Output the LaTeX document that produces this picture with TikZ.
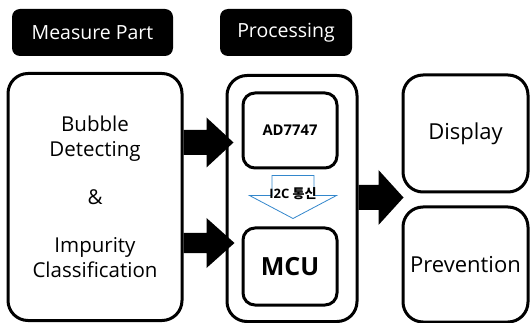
\documentclass[tikz,border=0pt]{standalone}
\usepackage{fontspec}
\setmainfont{Open Sans}
\newfontfamily\krfont{Noto Sans CJK KR}
\usetikzlibrary{calc}

% solid block arrow: start, tip, shaft half, head half, head length
\newcommand\blockarrow[5]{%
  \fill (#1) ++(0,-#3) -- ($(#2)+(-#5,-#3)$) -- ($(#2)+(-#5,-#4)$) -- (#2)
    -- ($(#2)+(-#5,#4)$) -- ($(#2)+(-#5,#3)$) -- ($(#1)+(0,#3)$) -- cycle;}

\begin{document}
\begin{tikzpicture}[x=1pt, y=-1pt,
	every node/.style={font=\fontsize{20.5}{25}\selectfont},
	hdr/.style={fill=black, text=white, rounded corners=8pt, inner sep=0pt, font=\fontsize{19.5}{24}\selectfont},
	bigbox/.style={draw, line width=3pt, rounded corners=20pt, inner sep=0pt, align=center},
	smallbox/.style={draw, line width=3pt, rounded corners=12pt, inner sep=0pt},
	i2c/.style={draw=blue!45!cyan!60!gray, line width=0.8pt, fill=white, fill opacity=0.6}]
	\useasboundingbox (0,0) rectangle (530,323);

	% headers
	\node[hdr, minimum width=161pt, minimum height=47pt] (mhdr) at (92.5,32.5) {Measure Part};
	\node[hdr, minimum width=132pt, minimum height=47pt] (phdr) at (286,32.5) {Processing};

	% blocks
	\node[bigbox, minimum width=174pt, minimum height=247pt] (measure) at (95,197) {Bubble\\Detecting\\[23pt]\&\\[23pt]Impurity\\Classification};
	\node[bigbox, minimum width=130pt, minimum height=246pt] (proc) at (292,198.5) {};
	\node[smallbox, minimum width=94pt, minimum height=75pt, font=\fontsize{14.8}{17}\selectfont\bfseries] (ad) at (290,130.5) {AD7747};
	\node[smallbox, minimum width=94pt, minimum height=77pt, font=\fontsize{25}{28}\selectfont\bfseries] (mcu) at (290,266.5) {MCU};
	\node[bigbox, minimum width=125pt, minimum height=117pt, font=\fontsize{22}{25}\selectfont] (display) at (465.5,133.5) {Display};
	\node[bigbox, minimum width=125pt, minimum height=115pt, font=\fontsize{22}{25}\selectfont] (prev) at (465.5,264.5) {Prevention};

	% arrows
	\coordinate (t1) at ($(ad.west)+(-8,12)$);
	\coordinate (t2) at ($(mcu.west)+(-7,-23.5)$);
	\coordinate (t3) at ($(display.south west)!0.5!(prev.north west)+(2,-2)$);
	\blockarrow{measure.east |- t1}{t1}{12.5}{25}{27}
	\blockarrow{measure.east |- t2}{t2}{10}{25}{28}
	\blockarrow{proc.east |- t3}{t3}{12.5}{27.5}{25}

	% I2C hollow arrow
	\coordinate (i2ctip) at ($(mcu.north)+(3,-8)$);
	\draw[i2c] (i2ctip) -- ++(-43.5,-23) -- ++(22.5,0) -- ++(0,-20) -- ++(42,0) -- ++(0,20) -- ++(22.5,0) -- cycle;
	\node[font=\fontsize{13}{15}\selectfont\bfseries, inner sep=0pt] (i2c) at (293,193.5) {I2C {\krfont 통신}};
\end{tikzpicture}
\end{document}
